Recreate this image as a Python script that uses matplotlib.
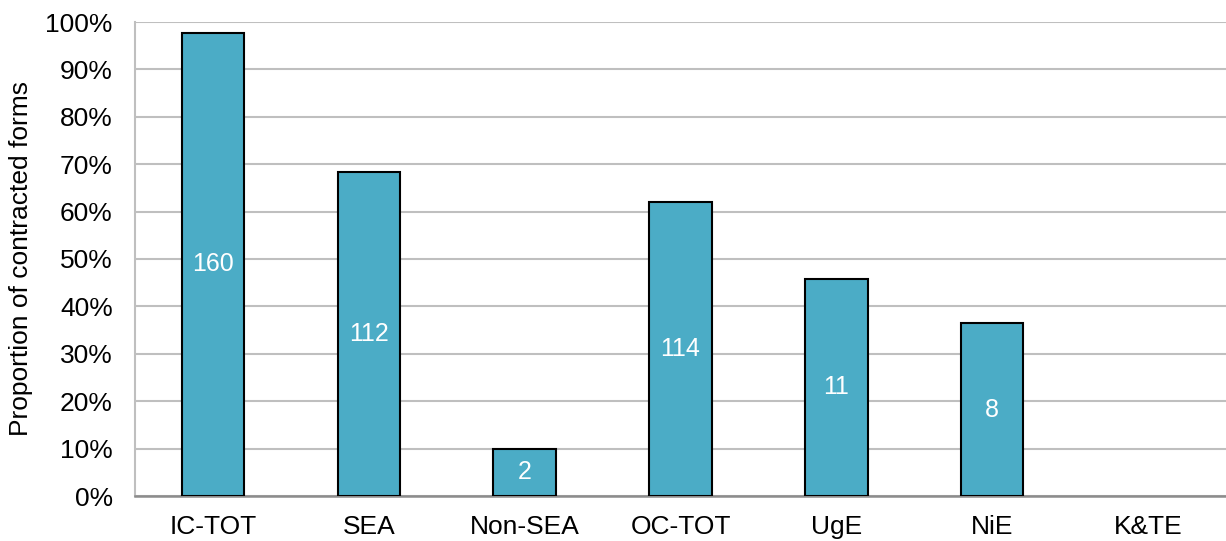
import matplotlib as mpl
mpl.use('Agg')

import numpy as np
import matplotlib.pyplot as plt
from matplotlib.ticker import PercentFormatter

# proporcao de formas contraidas por grupo e numero de ocorrencias
categorias = ['IC-TOT', 'SEA', 'Non-SEA', 'OC-TOT', 'UgE', 'NiE', 'K&TE']
proporcoes = [97.7, 68.3, 10.0, 62.0, 45.8, 36.4, 0.0]
contagens = ['160', '112', '2', '114', '11', '8', '']

plt.rcParams['font.family'] = ['Liberation Sans', 'DejaVu Sans']

fig = plt.figure(figsize=(12.26, 5.41), dpi=100)
ax = fig.add_axes([135 / 1226, 45 / 541, (1226 - 135) / 1226, (496 - 22) / 541])

x = np.arange(len(categorias))
# barra com valor zero fica sem contorno
larguras_borda = [1.5 if v > 0 else 0 for v in proporcoes]
barras = ax.bar(x, proporcoes, width=0.4, color='#4BACC6', edgecolor='black',
                linewidth=larguras_borda, zorder=3)

# rotulos brancos no meio de cada barra
for b, txt in zip(barras, contagens):
    if txt:
        ax.text(b.get_x() + b.get_width() / 2, b.get_height() / 2, txt,
                ha='center', va='center', color='white', fontsize=18, zorder=4)

ax.set_xlim(-0.5, len(categorias) - 0.5)
ax.set_ylim(0, 100)
ax.set_yticks(np.arange(0, 101, 10))
ax.yaxis.set_major_formatter(PercentFormatter(decimals=0))
ax.set_xticks(x)
ax.set_xticklabels(categorias)
ax.tick_params(axis='both', length=0, labelsize=19, colors='black')
ax.tick_params(axis='x', pad=14)
ax.tick_params(axis='y', pad=16)

ax.grid(axis='y', color='#BFBFBF', linewidth=1.5, zorder=0)
for lado in ['top', 'right']:
    ax.spines[lado].set_visible(False)
ax.spines['left'].set_color('#BFBFBF')
ax.spines['left'].set_linewidth(1.5)
ax.spines['bottom'].set_color('#8C8C8C')
ax.spines['bottom'].set_linewidth(1.8)

ax.set_ylabel('Proportion of contracted forms', fontsize=19, labelpad=9)

plt.savefig('out.png', dpi=100)
plt.close(fig)
